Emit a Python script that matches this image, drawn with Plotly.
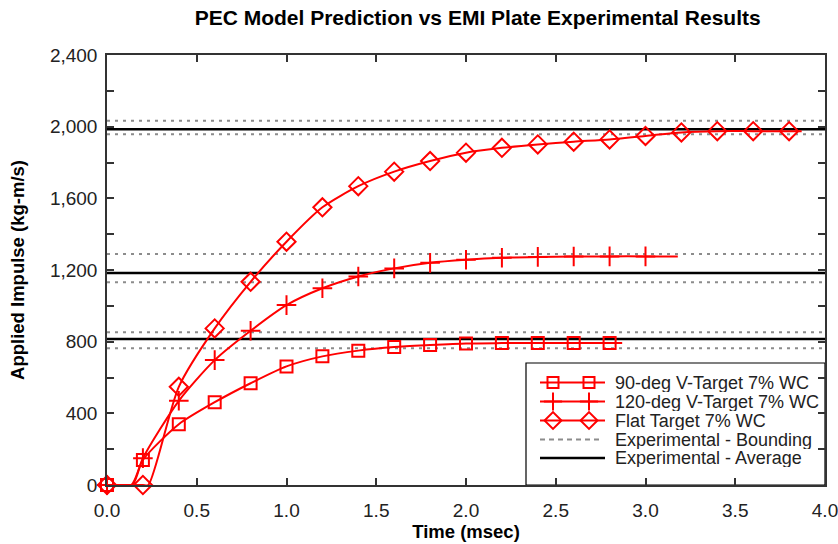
import plotly.graph_objects as go

# ---------------- data ----------------
t_marks_90 = [0.0, 0.2, 0.4, 0.6, 0.8, 1.0, 1.2, 1.4, 1.6, 1.8, 2.0, 2.2, 2.4, 2.6, 2.8]
imp_marks_90 = [0, 140, 339, 462, 568, 662, 718, 750, 770, 781, 790, 792, 793, 793, 793]
t_line_90 = [0.0, 0.135, 0.2, 0.4, 0.6, 0.8, 1.0, 1.2, 1.4, 1.6, 1.8, 2.0, 2.2, 2.4, 2.6, 2.8, 2.87]
imp_line_90 = [0, 0, 140, 339, 462, 568, 662, 718, 750, 770, 781, 790, 792, 793, 793, 793, 793]

t_marks_120 = [0.0, 0.2, 0.4, 0.6, 0.8, 1.0, 1.2, 1.4, 1.6, 1.8, 2.0, 2.2, 2.4, 2.6, 2.8, 3.0]
imp_marks_120 = [0, 150, 470, 697, 861, 1004, 1098, 1164, 1209, 1240, 1257, 1268, 1273, 1275, 1276, 1276]
t_line_120 = [0.0, 0.14, 0.2, 0.4, 0.6, 0.8, 1.0, 1.2, 1.4, 1.6, 1.8, 2.0, 2.2, 2.4, 2.6, 2.8, 3.0, 3.18]
imp_line_120 = [0, 0, 150, 470, 697, 861, 1004, 1098, 1164, 1209, 1240, 1257, 1268, 1273, 1275, 1276, 1276, 1276]

t_marks_flat = [0.0, 0.2, 0.4, 0.6, 0.8, 1.0, 1.2, 1.4, 1.6, 1.8, 2.0, 2.2, 2.4, 2.6, 2.8, 3.0, 3.2, 3.4, 3.6, 3.8]
imp_marks_flat = [0, 0, 548, 874, 1134, 1358, 1550, 1668, 1749, 1808, 1855, 1882, 1901, 1916, 1929, 1948, 1968, 1975, 1975, 1975]
t_line_flat = [0.0, 0.2, 0.23, 0.4, 0.6, 0.8, 1.0, 1.2, 1.4, 1.6, 1.8, 2.0, 2.2, 2.4, 2.6, 2.8, 3.0, 3.2, 3.4, 3.6, 3.8, 3.87]
imp_line_flat = [0, 0, 0, 548, 874, 1134, 1358, 1550, 1668, 1749, 1808, 1855, 1882, 1901, 1916, 1929, 1948, 1968, 1975, 1975, 1975, 1975]

exp_t_span = [0.0, 4.0]
exp_average = [1985, 1183, 815]
exp_bound_upper = [2033, 1289, 852]
exp_bound_lower = [1957, 1131, 763]

x_tick_vals = [0.0, 0.5, 1.0, 1.5, 2.0, 2.5, 3.0, 3.5, 4.0]
x_tick_text = ["0.0", "0.5", "1.0", "1.5", "2.0", "2.5", "3.0", "3.5", "4.0"]
y_tick_vals = [0, 200, 400, 600, 800, 1000, 1200, 1400, 1600, 1800, 2000, 2200, 2400]
y_tick_text = ["0", "", "400", "", "800", "", "1,200", "", "1,600", "", "2,000", "", "2,400"]

names = ["90-deg V-Target 7% WC", "120-deg V-Target 7% WC", "Flat Target 7% WC",
         "Experimental - Bounding", "Experimental - Average"]

RED = "#ff0000"
GREY = "#8c8c8c"
FONT = "Liberation Sans, Arial, sans-serif"

# layout (pixels)
W, H = 838, 544
ML, MR, MT, MB = 107, 13, 55, 59
PX0, PX1, PY0, PY1 = ML, W - MR, H - MB, MT   # plot area in pixels (y0 bottom)

fig = go.Figure()


def hlines(vals):
    xs, ys = [], []
    for v in vals:
        xs += [exp_t_span[0], exp_t_span[1], None]
        ys += [v, v, None]
    return xs, ys


bx, by = hlines(exp_bound_upper + exp_bound_lower)
fig.add_trace(go.Scatter(x=bx, y=by, mode="lines", showlegend=False,
                         line=dict(color=GREY, width=2, dash="3px,5px")))
ax, ay = hlines(exp_average)
fig.add_trace(go.Scatter(x=ax, y=ay, mode="lines", showlegend=False,
                         line=dict(color="black", width=2.5)))

markers = [
    dict(symbol="square-open", size=12, line=dict(width=2, color=RED)),
    dict(symbol="cross-thin-open", size=14, line=dict(width=2, color=RED)),
    dict(symbol="diamond-open", size=14, line=dict(width=2, color=RED)),
]
series = [
    (t_line_90, imp_line_90, t_marks_90, imp_marks_90),
    (t_line_120, imp_line_120, t_marks_120, imp_marks_120),
    (t_line_flat, imp_line_flat, t_marks_flat, imp_marks_flat),
]

for i, (tl, yl, tm, ym) in enumerate(series):
    fig.add_trace(go.Scatter(x=tl, y=yl, mode="lines", showlegend=False, name=names[i],
                             line=dict(color=RED, width=2, shape="spline", smoothing=0.7)))
    fig.add_trace(go.Scatter(x=tm, y=ym, mode="markers", showlegend=False, cliponaxis=False,
                             name=names[i], marker=dict(color=RED, **markers[i])))

# ---------------- hand-drawn legend (pixel overlay axes) ----------------
leg_box = (526, 363, 825, 485)         # x0, y0(top), x1, y1(bottom)
leg_rows = [382.5, 401.5, 420.5, 439.5, 458]
leg_line_x = [540, 605]
leg_mark_x = [553, 589]
leg_text_x = 614

for i, ry in enumerate(leg_rows):
    if i < 3:
        fig.add_trace(go.Scatter(x=leg_line_x, y=[ry, ry], xaxis="x2", yaxis="y2", mode="lines",
                                 showlegend=False, hoverinfo="skip", line=dict(color=RED, width=2)))
        fig.add_trace(go.Scatter(x=leg_mark_x, y=[ry, ry], xaxis="x2", yaxis="y2", mode="markers",
                                 showlegend=False, hoverinfo="skip",
                                 marker=dict(color=RED, symbol=markers[i]["symbol"],
                                             size=markers[i]["size"] - 1, line=markers[i]["line"])))
    elif i == 3:
        fig.add_trace(go.Scatter(x=[leg_line_x[0], leg_line_x[1] - 6], y=[ry, ry], xaxis="x2", yaxis="y2",
                                 mode="lines", showlegend=False, hoverinfo="skip",
                                 line=dict(color=GREY, width=2, dash="5px,4px")))
    else:
        fig.add_trace(go.Scatter(x=leg_line_x, y=[ry, ry], xaxis="x2", yaxis="y2", mode="lines",
                                 showlegend=False, hoverinfo="skip", line=dict(color="black", width=2.5)))
    fig.add_annotation(x=leg_text_x, y=ry, xref="x2", yref="y2", text=names[i], showarrow=False,
                       xanchor="left", yanchor="middle", height=18, borderpad=0, valign="middle",
                       font=dict(family=FONT, size=18, color="#222222"))

fig.add_shape(type="rect", xref="x2", yref="y2", x0=leg_box[0], y0=leg_box[1], x1=leg_box[2], y1=leg_box[3],
              line=dict(color="black", width=1.2), fillcolor="white", layer="below")

axis_common = dict(showline=True, linecolor="#333333", linewidth=1.5, mirror="ticks",
                   ticks="inside", ticklen=7, tickwidth=1.5, tickcolor="#333333",
                   showgrid=False, zeroline=False, automargin=False, ticklabeloverflow="allow",
                   tickfont=dict(family=FONT, size=19, color="#222222"))

fig.update_layout(
    xaxis=dict(range=[0, 4], tickvals=x_tick_vals, ticktext=x_tick_text, ticklabelstandoff=7,
               title=dict(text="<b>Time (msec)</b>", font=dict(family=FONT, size=18.5, color="black"), standoff=6),
               **axis_common),
    yaxis=dict(range=[0, 2400], tickvals=y_tick_vals, ticktext=y_tick_text, ticklabelstandoff=4,
               title=dict(text="<b>Applied Impulse (kg-m/s)</b>", font=dict(family=FONT, size=18.5, color="black"), standoff=20),
               **axis_common),
    xaxis2=dict(range=[PX0, PX1], overlaying="x", anchor="y2", visible=False, fixedrange=True),
    yaxis2=dict(range=[PY0, PY1], overlaying="y", anchor="x2", visible=False, fixedrange=True),
    width=W, height=H,
    margin=dict(l=ML, r=MR, t=MT, b=MB),
    paper_bgcolor="white", plot_bgcolor="white",
    title=dict(text="<b>PEC Model Prediction vs EMI Plate Experimental Results</b>",
               font=dict(family=FONT, size=21, color="black"),
               x=0.57, xanchor="center", y=0.968, yanchor="middle"),
    showlegend=False,
)

fig.write_html("out.html", config={"displayModeBar": False},
               post_script="document.body.style.margin='0';document.body.style.padding='0';")
